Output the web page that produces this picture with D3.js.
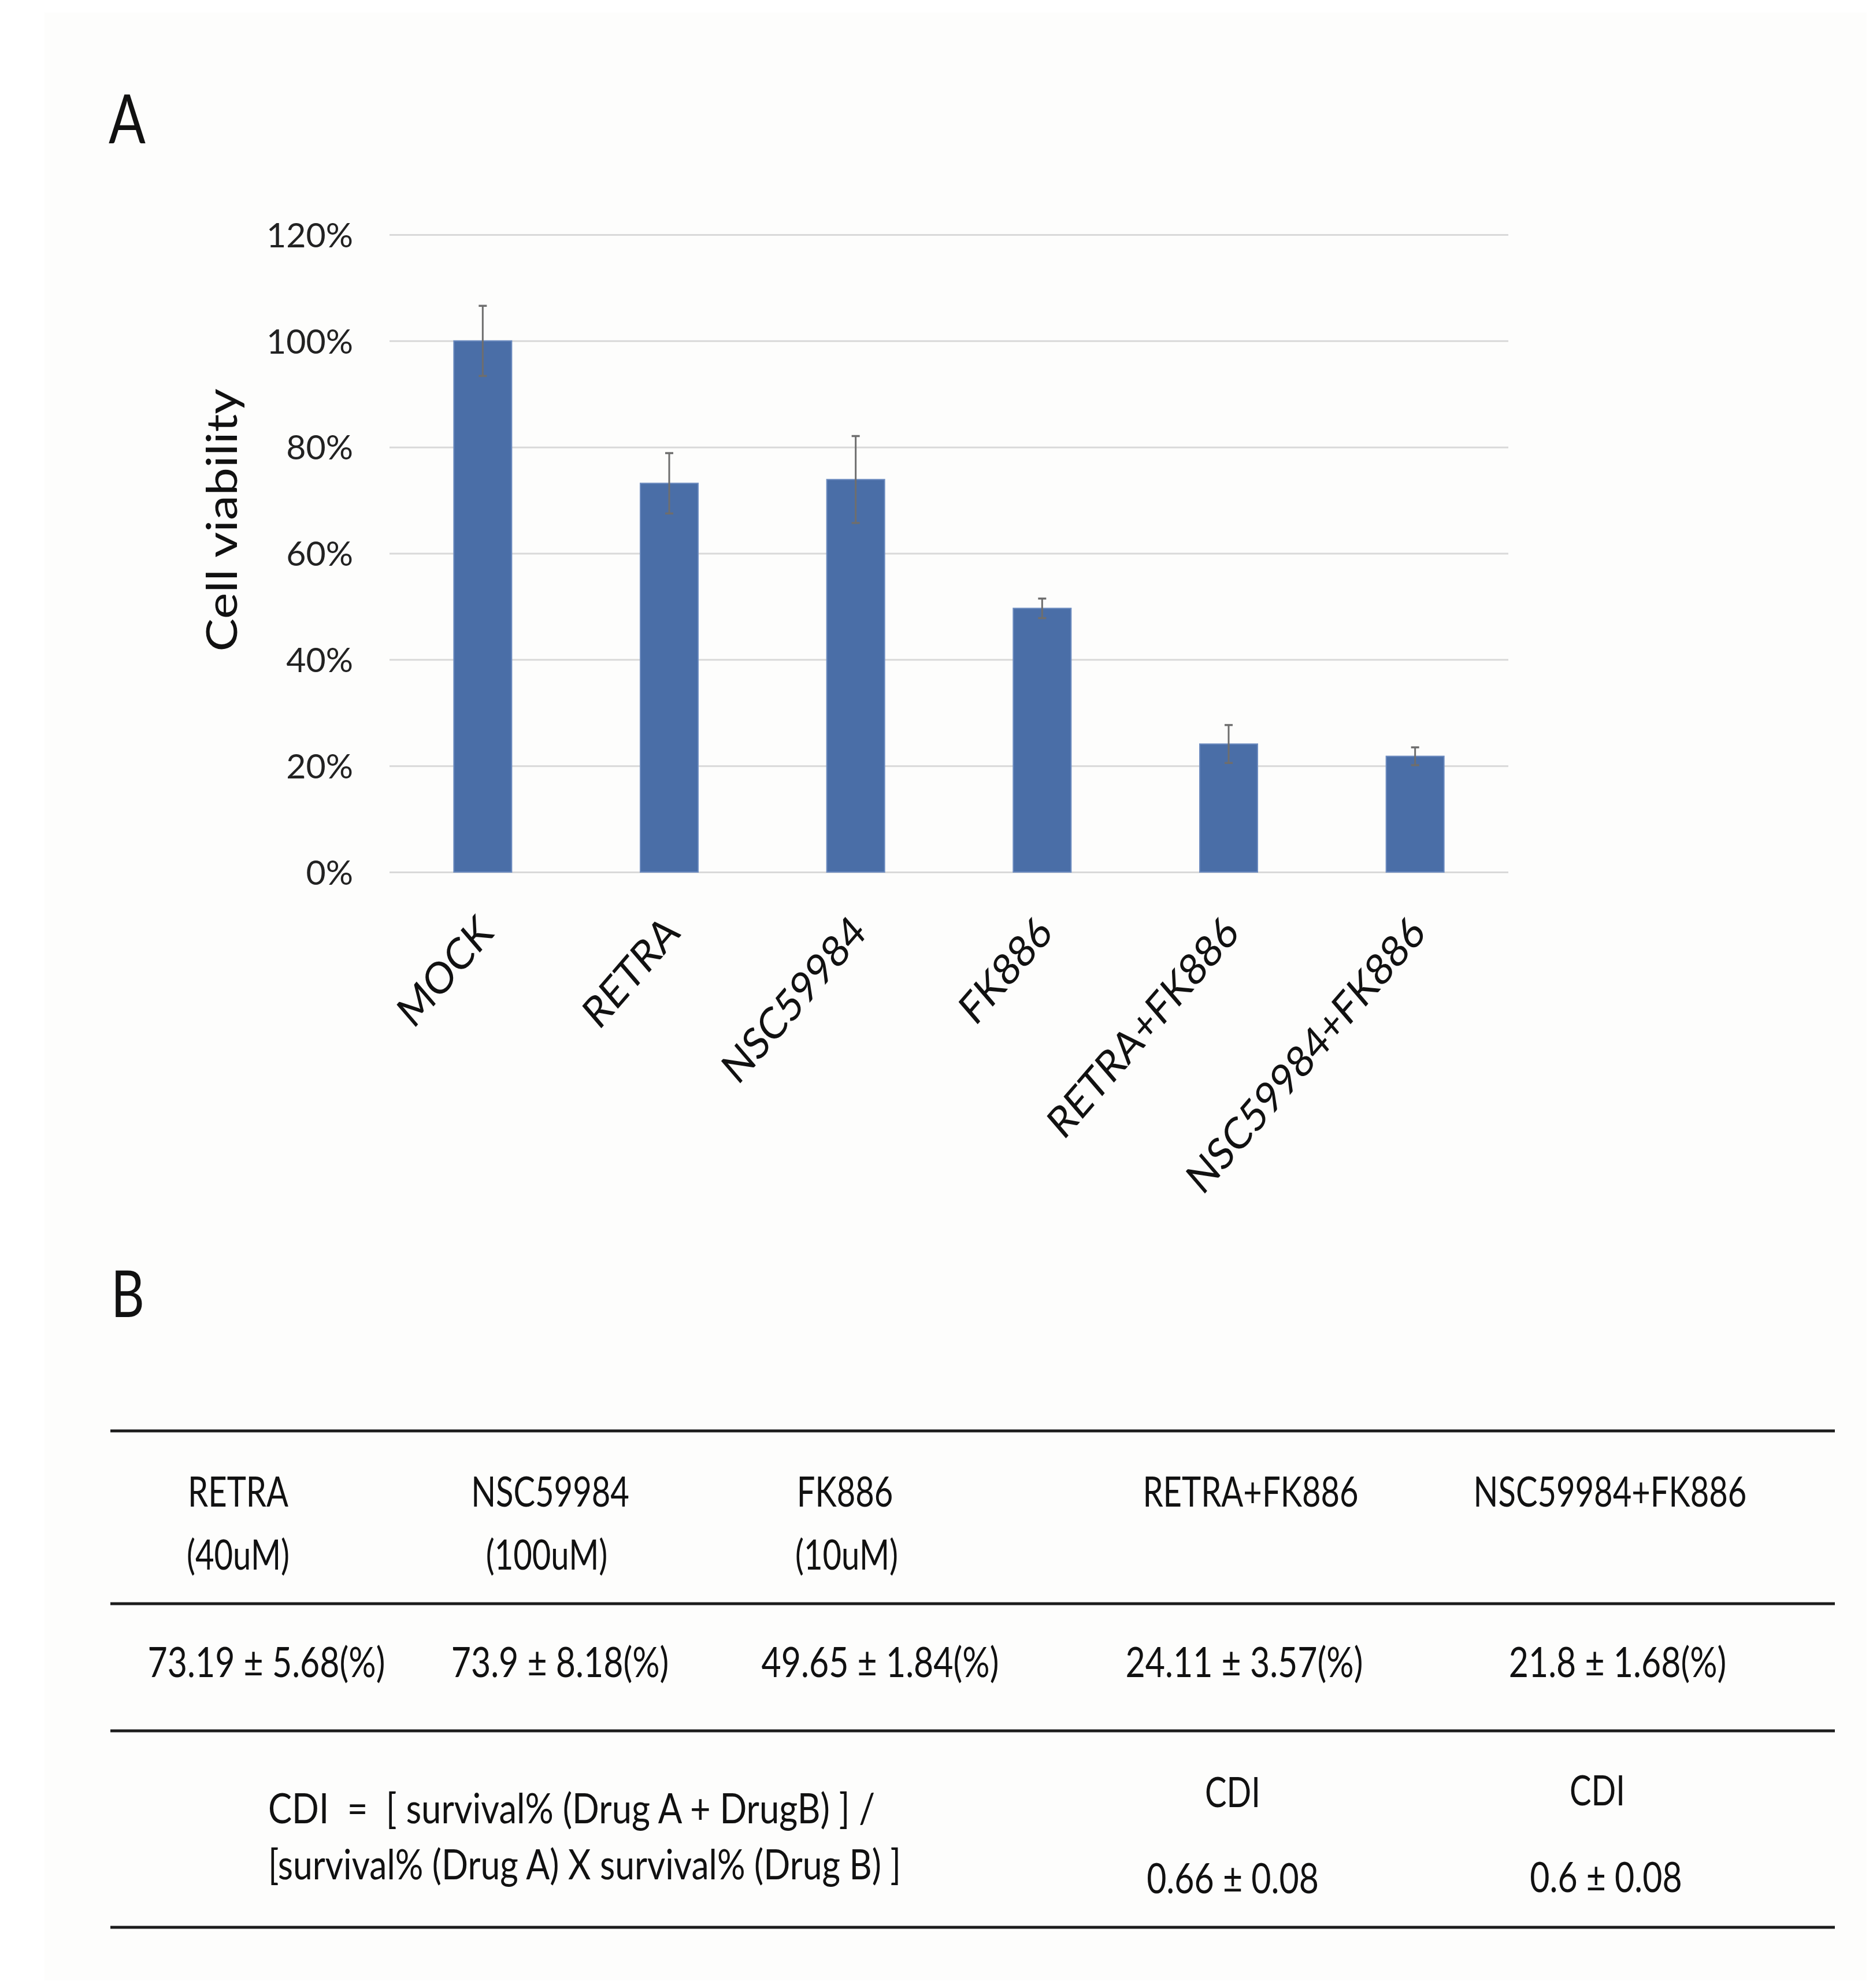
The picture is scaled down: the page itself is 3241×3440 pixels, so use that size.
<!DOCTYPE html>
<html>
<head>
<meta charset="utf-8">
<script src="https://cdn.jsdelivr.net/npm/d3@7"></script>
<style>
  html, body { margin: 0; padding: 0; background: #ffffff; }
  svg { display: block; }
</style>
</head>
<body>
<svg id="fig" width="3241" height="3440"></svg>
<script>
// ---------------- DATA ----------------
const categories = ["MOCK", "RETRA", "NSC59984", "FK886", "RETRA+FK886", "NSC59984+FK886"];
const viability  = [100, 73.19, 73.9, 49.65, 24.11, 21.8];   // %
const errors     = [6.6, 5.68, 8.18, 1.84, 3.57, 1.68];      // % (SD)
const yTicks     = [0, 20, 40, 60, 80, 100, 120];
const yTitle     = "Cell viability";

const tableDrugs = ["RETRA", "NSC59984", "FK886", "RETRA+FK886", "NSC59984+FK886"];
const tableDoses = ["(40uM)", "(100uM)", "(10uM)", "", ""];
const tableMeans = ["73.19", "73.9", "49.65", "24.11", "21.8"];
const tableSDs   = ["5.68", "8.18", "1.84", "3.57", "1.68"];
const cdiFormula = ["CDI  =  [ survival% (Drug A + DrugB) ] /", "[survival% (Drug A) X survival% (Drug B) ]"];
const cdiLabels  = ["CDI", "CDI"];
const cdiMeans   = ["0.66", "0.6"];
const cdiSDs     = ["0.08", "0.08"];

// ---------------- LAYOUT ----------------
const svg = d3.select("#fig");
const FONT = "Lato, 'Open Sans', sans-serif";

// faint off-white panel
svg.append("rect").attr("x", 77).attr("y", 22).attr("width", 3153).attr("height", 3405)
   .attr("fill", "#fdfdfc");

// panel letters
svg.append("text").attr("transform", "translate(188,248) scale(0.8,1)")
   .attr("font-family", FONT).attr("font-size", 118).attr("fill", "#111").text("A");
svg.append("text").attr("transform", "translate(192,2279) scale(0.8,1)")
   .attr("font-family", FONT).attr("font-size", 112).attr("fill", "#111").text("B");

// ---------------- CHART A ----------------
const plot = { left: 674, right: 2610, top: 406, bottom: 1509 };

const x = d3.scaleBand().domain(categories)
  .range([plot.left, plot.right]).paddingInner(0.69).paddingOuter(0.345);
const y = d3.scaleLinear().domain([0, 120]).range([plot.bottom, plot.top]);

// gridlines
const grid = svg.append("g").attr("transform", `translate(${plot.left},0)`)
  .call(d3.axisLeft(y).tickValues(yTicks).tickSize(-(plot.right - plot.left)).tickFormat(""));
grid.select(".domain").remove();
grid.selectAll("line").attr("stroke", "#d9d9d9").attr("stroke-width", 3);

// y tick labels
const yAx = svg.append("g").attr("transform", `translate(611,0)`)
  .call(d3.axisLeft(y).tickValues(yTicks).tickSize(0).tickPadding(0).tickFormat(d => d + "%"));
yAx.select(".domain").remove();
yAx.selectAll("text").attr("font-family", FONT).attr("font-size", 59).attr("fill", "#222")
   .attr("dy", "0.36em");

// y title
svg.append("text")
  .attr("transform", "translate(410,900) scale(0.86,1) rotate(-90)")
  .attr("text-anchor", "middle")
  .attr("font-family", FONT).attr("font-size", 86).attr("fill", "#111")
  .text(yTitle);

// bars
const rows = categories.map((c, i) => ({ c, v: viability[i], e: errors[i] }));
svg.append("g").selectAll("rect").data(rows).join("rect")
  .attr("x", d => x(d.c)).attr("width", x.bandwidth())
  .attr("y", d => y(d.v)).attr("height", d => y(0) - y(d.v))
  .attr("fill", "#4a6ea7").attr("stroke", "#6d8cc0").attr("stroke-width", 2);

// error bars
const eb = svg.append("g").attr("stroke", "#6e6e6e");
eb.selectAll("line.v").data(rows).join("line").attr("class", "v")
  .attr("x1", d => x(d.c) + x.bandwidth() / 2).attr("x2", d => x(d.c) + x.bandwidth() / 2)
  .attr("y1", d => y(d.v + d.e)).attr("y2", d => y(d.v - d.e)).attr("stroke-width", 3);
eb.selectAll("line.t").data(rows).join("line").attr("class", "t")
  .attr("x1", d => x(d.c) + x.bandwidth() / 2 - 7).attr("x2", d => x(d.c) + x.bandwidth() / 2 + 7)
  .attr("y1", d => y(d.v + d.e)).attr("y2", d => y(d.v + d.e)).attr("stroke-width", 3.5);
eb.selectAll("line.b").data(rows).join("line").attr("class", "b")
  .attr("x1", d => x(d.c) + x.bandwidth() / 2 - 7).attr("x2", d => x(d.c) + x.bandwidth() / 2 + 7)
  .attr("y1", d => y(d.v - d.e)).attr("y2", d => y(d.v - d.e)).attr("stroke-width", 3.5);

// x labels (rotated)
svg.append("g").selectAll("text").data(categories).join("text")
  .attr("transform", d => `translate(${x(d) + x.bandwidth() / 2 - 12},${plot.bottom + 70}) scale(0.86,1) rotate(-45)`)
  .attr("text-anchor", "end").attr("dy", "0.72em")
  .attr("font-family", FONT).attr("font-size", 76).attr("fill", "#111")
  .text(d => d);

// ---------------- TABLE B ----------------
const tbl = { left: 191, right: 3175 };
const lineYs = [2476, 2775, 2995, 3335];
svg.append("g").selectAll("line").data(lineYs).join("line")
  .attr("x1", tbl.left).attr("x2", tbl.right).attr("y1", d => d).attr("y2", d => d)
  .attr("stroke", "#1c1c1c").attr("stroke-width", 5);

const TFS = 72;
function ttext(g, xc, yb, str, anchor, sx) {
  return g.append("text")
    .attr("transform", `translate(${xc},${yb}) scale(${sx || 0.78},1)`)
    .attr("text-anchor", anchor || "middle")
    .attr("font-family", FONT).attr("font-weight", 400)
    .attr("font-size", TFS).attr("fill", "#111").text(str);
}
const tg = svg.append("g");
const headX = [412, 952, 1462, 2164, 2786];
const doseX = [412, 946, 1465, 0, 0];
const valX  = [461, 969, 1523, 2153, 2799];
tableDrugs.forEach((s, i) => ttext(tg, headX[i], 2607, s));
tableDoses.forEach((s, i) => { if (s) ttext(tg, doseX[i], 2716, s); });
tableMeans.forEach((m, i) => ttext(tg, valX[i], 2902, `${m} ± ${tableSDs[i]}(%)`, "middle", 0.82));

ttext(tg, 464, 3155, cdiFormula[0], "start", 0.855).attr("xml:space", "preserve");
ttext(tg, 464, 3252, cdiFormula[1], "start", 0.842);
const cdiX = [2133, 2764];
const cdiVX = [2133, 2779];
cdiLabels.forEach((s, i) => ttext(tg, cdiX[i], 3127 - i * 3, s));
cdiMeans.forEach((m, i) => ttext(tg, cdiVX[i], 3276 - i * 2, `${m} ± ${cdiSDs[i]}`, "middle", 0.82));
</script>
</body>
</html>
